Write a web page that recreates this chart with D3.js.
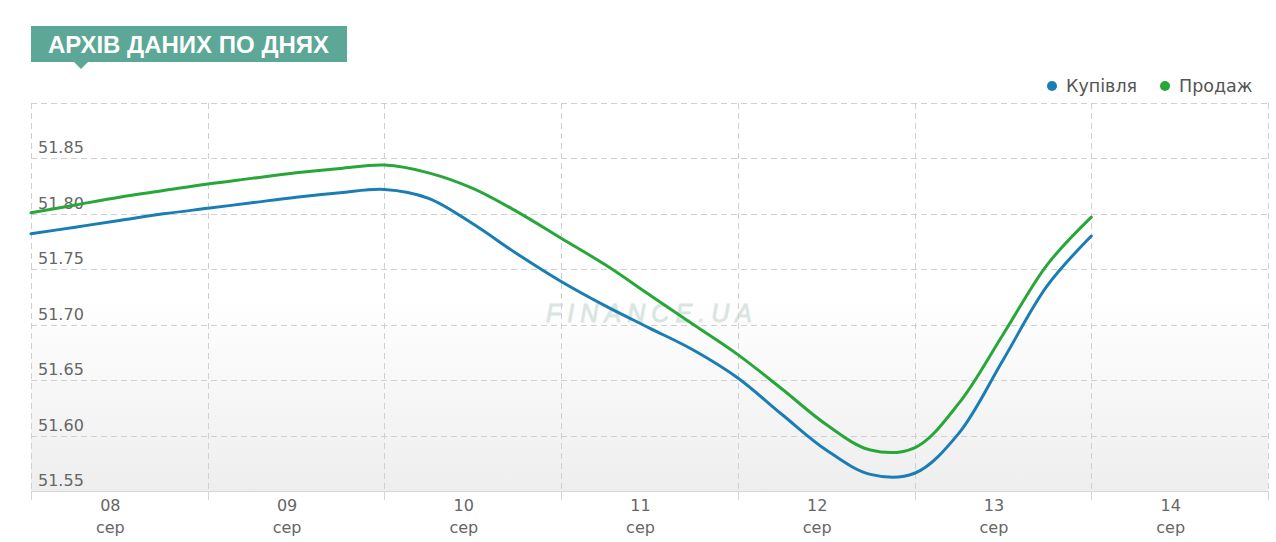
<!DOCTYPE html>
<html>
<head>
<meta charset="utf-8">
<script src="https://cdn.jsdelivr.net/npm/d3@7"></script>
<style>
  html, body { margin: 0; padding: 0; background: #fff; }
  svg { display: block; }
</style>
</head>
<body>
<script>
const width = 1276;
const height = 542;

// 6-hour readings, 8 Aug 00:00 .. 14 Aug 00:00
const times = [
  "2019-08-08 00:00", "2019-08-08 06:00", "2019-08-08 12:00", "2019-08-08 18:00",
  "2019-08-09 00:00", "2019-08-09 06:00", "2019-08-09 12:00", "2019-08-09 18:00",
  "2019-08-10 00:00", "2019-08-10 06:00", "2019-08-10 12:00", "2019-08-10 18:00",
  "2019-08-11 00:00", "2019-08-11 06:00", "2019-08-11 12:00", "2019-08-11 18:00",
  "2019-08-12 00:00", "2019-08-12 06:00", "2019-08-12 12:00", "2019-08-12 18:00",
  "2019-08-13 00:00", "2019-08-13 06:00", "2019-08-13 12:00", "2019-08-13 18:00",
  "2019-08-14 00:00"
];

const buy = [
  51.782, 51.788, 51.794, 51.800, 51.805, 51.810, 51.815, 51.819,
  51.822, 51.814, 51.791, 51.764, 51.739, 51.717, 51.697, 51.677,
  51.652, 51.619, 51.587, 51.565, 51.566, 51.602, 51.668, 51.735,
  51.780
];

const sell = [
  51.801, 51.808, 51.815, 51.821, 51.827, 51.832, 51.837, 51.841,
  51.844, 51.837, 51.823, 51.802, 51.778, 51.754, 51.727, 51.700,
  51.673, 51.642, 51.610, 51.587, 51.589, 51.629, 51.691, 51.754,
  51.797
];

const dayLabels = ["08", "09", "10", "11", "12", "13", "14"];
const monthLabel = "сер";
const yTicks = [51.55, 51.60, 51.65, 51.70, 51.75, 51.80, 51.85];
const seriesNames = ["Купівля", "Продаж"];
const seriesColors = ["#1a7db3", "#27a739"];
const title = "АРХІВ ДАНИХ ПО ДНЯХ";

const parseTime = d3.timeParse("%Y-%m-%d %H:%M");
const dates = times.map(parseTime);
const firstDay = parseTime("2019-08-08 00:00");
const lastDay = parseTime("2019-08-15 00:00");

const plot = { left: 31, right: 1268, top: 103, bottom: 491 };

const x = d3.scaleTime()
  .domain([firstDay, lastDay])
  .range([plot.left, plot.right]);

const y = d3.scaleLinear()
  .domain([51.55, 51.90])
  .range([plot.bottom, plot.top]);

const svg = d3.select('body').append('svg')
  .attr('width', width)
  .attr('height', height);

// plot background
const grad = svg.append('defs').append('linearGradient')
  .attr('id', 'bg').attr('x1', 0).attr('y1', 0).attr('x2', 0).attr('y2', 1);
grad.append('stop').attr('offset', '0.5').attr('stop-color', '#ffffff');
grad.append('stop').attr('offset', '1').attr('stop-color', '#eeeeee');

svg.append('rect')
  .attr('x', plot.left).attr('y', plot.top)
  .attr('width', plot.right - plot.left).attr('height', plot.bottom - plot.top)
  .attr('fill', 'url(#bg)');

// watermark
svg.append('text')
  .attr('x', 546).attr('y', 322)
  .attr('font-family', 'Liberation Sans, Arial, sans-serif')
  .attr('font-style', 'italic')
  .attr('font-size', 25)
  .attr('textLength', 206)
  .attr('lengthAdjust', 'spacing')
  .attr('fill', '#dae5e2')
  .attr('stroke', '#dae5e2')
  .attr('stroke-width', 0.8)
  .text('FINANCE.UA');

// grid
const dayEdges = d3.timeDay.range(firstDay, d3.timeDay.offset(lastDay, 1));
const grid = svg.append('g')
  .attr('stroke', '#d0d0d0')
  .attr('stroke-dasharray', '6,4')
  .attr('stroke-width', 1);

grid.selectAll('line.v').data(dayEdges)
  .join('line')
  .attr('x1', d => Math.round(x(d)) + 0.5)
  .attr('x2', d => Math.round(x(d)) + 0.5)
  .attr('y1', plot.top)
  .attr('y2', plot.bottom);

grid.selectAll('line.h').data(yTicks.concat([51.90]))
  .join('line')
  .attr('class', 'h')
  .attr('x1', plot.left)
  .attr('x2', plot.right)
  .attr('y1', d => Math.round(y(d)) + 0.5)
  .attr('y2', d => Math.round(y(d)) + 0.5);

// x axis line and ticks
svg.append('line')
  .attr('x1', plot.left).attr('x2', plot.right)
  .attr('y1', plot.bottom + 0.5).attr('y2', plot.bottom + 0.5)
  .attr('stroke', '#d6d6d6');

svg.append('g').selectAll('line').data(dayEdges)
  .join('line')
  .attr('x1', d => Math.round(x(d)) + 0.5)
  .attr('x2', d => Math.round(x(d)) + 0.5)
  .attr('y1', plot.bottom)
  .attr('y2', plot.bottom + 9)
  .attr('stroke', '#d6d6d6');

// y labels
svg.append('g').selectAll('text').data(yTicks)
  .join('text')
  .attr('x', 38)
  .attr('y', d => y(d) - 5)
  .attr('font-family', 'DejaVu Sans, Verdana, sans-serif')
  .attr('font-size', 16)
  .attr('fill', '#666')
  .text(d => d3.format('.2f')(d));

// x labels (sit a little left of the day centre, as in the original)
const noon = dayLabels.map((d, i) => d3.timeHour.offset(d3.timeDay.offset(firstDay, i), 12));
const xl = svg.append('g')
  .attr('font-family', 'DejaVu Sans, Verdana, sans-serif')
  .attr('font-size', 16)
  .attr('fill', '#666')
  .attr('text-anchor', 'middle');

xl.selectAll('text.day').data(dayLabels)
  .join('text')
  .attr('class', 'day')
  .attr('x', (d, i) => x(noon[i]) - 9)
  .attr('y', 511)
  .text(d => d);

xl.selectAll('text.mon').data(dayLabels)
  .join('text')
  .attr('class', 'mon')
  .attr('x', (d, i) => x(noon[i]) - 9)
  .attr('y', 533)
  .text(monthLabel);

// lines
const line = d3.line()
  .x((d, i) => x(dates[i]))
  .y(d => y(d))
  .curve(d3.curveCatmullRom.alpha(0.5));

[buy, sell].forEach((s, k) => {
  svg.append('path')
    .attr('d', line(s))
    .attr('fill', 'none')
    .attr('stroke', seriesColors[k])
    .attr('stroke-width', 3)
    .attr('stroke-linejoin', 'round')
    .attr('stroke-linecap', 'round');
});

// legend
const legendX = [1052, 1165];
const legend = svg.append('g');
seriesNames.forEach((name, k) => {
  legend.append('circle')
    .attr('cx', legendX[k]).attr('cy', 86).attr('r', 5)
    .attr('fill', seriesColors[k]);
  legend.append('text')
    .attr('x', legendX[k] + 14).attr('y', 92)
    .attr('font-family', 'DejaVu Sans, Verdana, sans-serif')
    .attr('font-size', 17.5)
    .attr('fill', '#555')
    .text(name);
});

// title badge
const badge = svg.append('g');
badge.append('rect')
  .attr('x', 31).attr('y', 26).attr('width', 316).attr('height', 36)
  .attr('fill', '#5ca795');
badge.append('path')
  .attr('d', 'M74,62 L81,69 L88,62 Z')
  .attr('fill', '#5ca795');
badge.append('text')
  .attr('x', 48).attr('y', 53)
  .attr('font-family', 'Liberation Sans, Arial, sans-serif')
  .attr('font-weight', 'bold')
  .attr('font-size', 24)
  .attr('fill', '#fff')
  .text(title);
</script>
</body>
</html>
